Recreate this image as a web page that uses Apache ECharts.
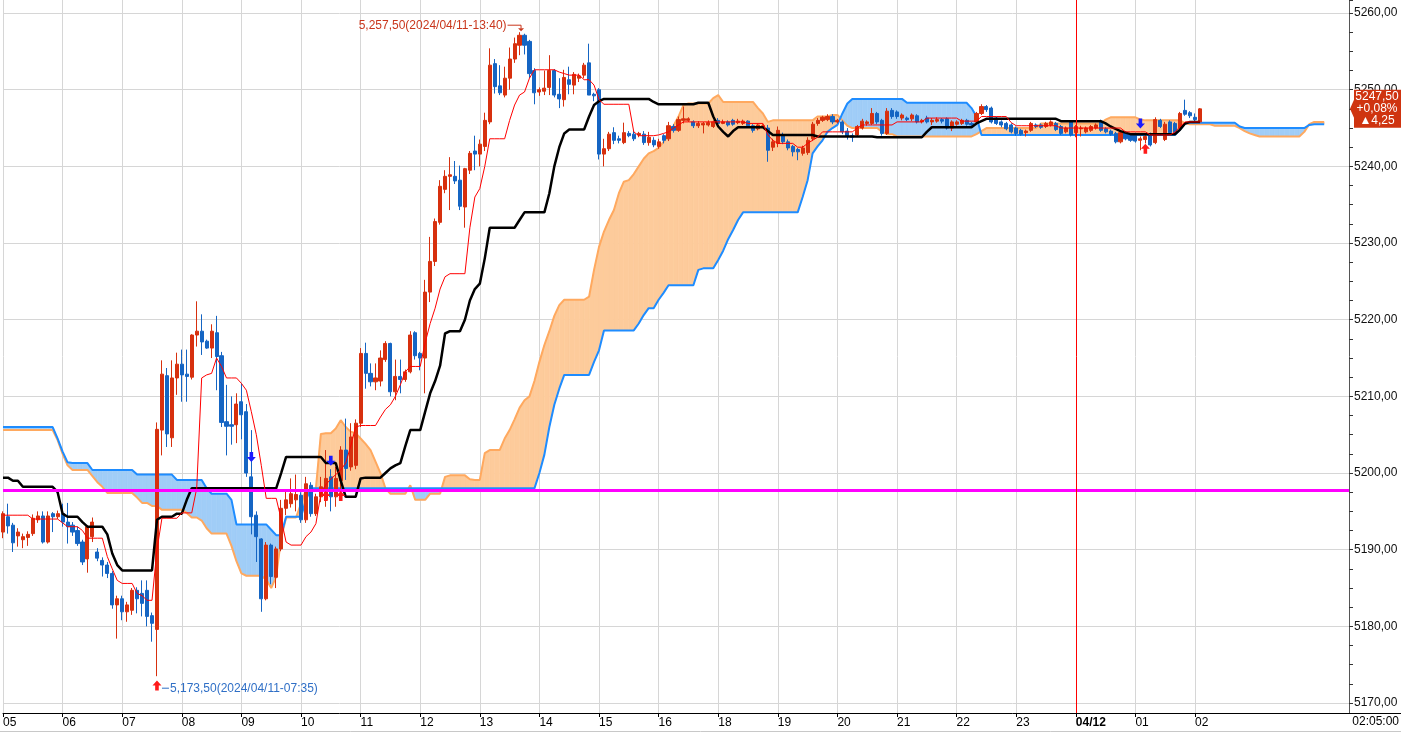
<!DOCTYPE html>
<html>
<head>
<meta charset="utf-8">
<script src="https://cdn.jsdelivr.net/npm/echarts@6/dist/echarts.min.js"></script>
<style>
html,body{margin:0;padding:0;background:#fff;}
#chart{width:1401px;height:733px;}
</style>
</head>
<body>
<div id="chart"></div>
<script>
// 5-minute bars [open, close, low, high], 05:00 .. 02:05
var ohlc = [
// 0
[5192.3,5194.7,5191.5,5195.0],[5194.3,5193.1,5192.1,5196.0],[5193.2,5190.9,5189.7,5193.5],[5191.8,5192.3,5190.4,5192.8],[5191.3,5191.7,5190.2,5192.1],
[5191.6,5192.0,5190.5,5192.4],[5192.1,5194.1,5191.8,5194.6],[5193.9,5194.4,5193.5,5195.0],[5194.4,5191.0,5190.8,5195.0],[5191.0,5194.4,5190.8,5195.0],
// 10
[5194.7,5194.3,5192.3,5194.9],[5194.3,5194.7,5194.0,5195.1],[5194.7,5193.6,5193.0,5196.0],[5193.6,5193.0,5190.8,5196.1],[5193.2,5192.3,5191.8,5193.6],
[5192.5,5190.8,5190.5,5193.0],[5191.0,5188.4,5188.0,5191.3],[5188.8,5193.0,5187.0,5193.2],[5191.7,5193.6,5191.0,5194.2],[5189.7,5188.9,5188.5,5190.2],
// 20
[5188.6,5188.0,5186.5,5189.0],[5188.0,5186.9,5186.3,5188.4],[5186.9,5182.8,5182.3,5187.2],[5182.8,5183.6,5178.4,5184.0],[5183.6,5181.9,5180.8,5184.0],
[5181.9,5182.8,5180.6,5183.2],[5182.1,5184.7,5181.5,5185.0],[5184.7,5183.6,5181.7,5185.1],[5184.3,5183.0,5181.3,5186.0],[5184.7,5181.3,5180.0,5186.0],
// 30
[5181.4,5180.4,5178.0,5181.8],[5179.6,5205.7,5173.5,5206.6],[5205.6,5212.9,5202.3,5214.7],[5212.7,5205.1,5203.4,5213.7],[5204.6,5212.4,5203.4,5214.7],
[5212.4,5214.2,5210.2,5215.7],[5214.2,5212.8,5209.3,5216.1],[5212.9,5212.6,5209.3,5216.1],[5212.5,5218.0,5212.2,5218.1],[5218.0,5218.5,5216.5,5222.4],
// 40
[5218.5,5217.1,5215.4,5220.7],[5217.2,5216.3,5216.2,5217.4],[5216.3,5218.5,5215.0,5219.4],[5218.3,5215.2,5210.8,5220.5],[5215.3,5206.6,5206.0,5215.8],
[5206.7,5206.1,5202.3,5211.5],[5206.3,5206.1,5203.7,5210.0],[5206.3,5209.0,5203.9,5210.4],[5209.3,5207.6,5204.4,5211.7],[5208.0,5200.0,5199.5,5209.0],
// 50
[5199.5,5194.3,5192.0,5205.6],[5194.5,5191.7,5188.4,5195.0],[5191.4,5183.6,5181.9,5191.5],[5183.6,5190.6,5183.4,5191.0],[5190.6,5186.5,5185.5,5190.8],
[5186.4,5190.1,5185.0,5190.4],[5190.1,5195.4,5189.8,5196.5],[5195.4,5196.5,5194.5,5197.8],[5196.0,5197.3,5195.5,5199.3],[5196.5,5197.2,5195.0,5199.8],
// 60
[5197.1,5193.9,5193.5,5197.5],[5193.9,5198.6,5193.5,5199.5],[5198.4,5194.7,5194.3,5198.8],[5194.7,5196.9,5194.4,5197.3],[5196.9,5198.2,5196.2,5199.5],
[5196.5,5199.3,5195.6,5203.0],[5199.5,5196.9,5195.0,5200.5],[5196.9,5199.3,5195.6,5200.8],[5199.0,5203.0,5197.5,5203.5],[5203.0,5200.6,5199.1,5207.1],
// 70
[5200.8,5204.7,5200.3,5206.5],[5201.0,5206.5,5200.5,5207.0],[5206.5,5215.6,5206.0,5216.3],[5215.6,5213.0,5211.0,5217.0],[5213.0,5211.9,5211.3,5214.3],
[5211.9,5212.4,5210.8,5214.3],[5212.0,5215.0,5211.3,5216.0],[5214.8,5216.9,5214.5,5217.2],[5216.9,5210.6,5210.0,5217.0],[5210.6,5212.6,5209.5,5214.8],
// 80
[5212.6,5212.2,5210.4,5214.8],[5212.2,5213.2,5211.9,5213.5],[5213.2,5218.0,5213.0,5218.5],[5218.3,5215.3,5214.8,5218.5],[5215.6,5215.0,5213.4,5215.8],
[5215.0,5223.6,5210.4,5225.2],[5223.6,5227.6,5222.3,5230.8],[5227.6,5232.8,5227.0,5233.2],[5232.7,5237.4,5232.4,5238.2],[5237.0,5238.7,5236.5,5239.5],
// 90
[5238.7,5238.9,5234.3,5241.2],[5238.7,5238.1,5237.7,5240.7],[5238.2,5234.8,5234.3,5240.1],[5234.7,5239.7,5232.0,5239.8],[5239.5,5241.7,5239.0,5242.0],
[5242.0,5241.6,5239.5,5244.0],[5241.6,5242.9,5240.0,5243.5],[5242.6,5246.0,5242.0,5247.0],[5245.8,5253.2,5245.5,5255.4],[5253.4,5250.4,5249.5,5254.0],
// 100
[5250.5,5249.6,5249.3,5253.2],[5249.3,5251.5,5249.0,5253.0],[5251.5,5254.0,5250.0,5255.5],[5254.0,5256.0,5253.5,5256.8],[5255.8,5257.1,5254.5,5257.5],
[5257.1,5255.8,5254.6,5257.3],[5256.3,5252.1,5251.5,5256.5],[5252.5,5249.6,5248.1,5252.8],[5249.7,5250.0,5249.2,5250.3],[5249.8,5250.2,5249.3,5252.5],
// 110
[5250.3,5252.5,5249.3,5254.5],[5252.5,5249.3,5249.0,5252.7],[5249.4,5248.8,5247.6,5251.5],[5248.7,5251.6,5247.8,5252.6],[5251.3,5250.7,5249.4,5253.0],
[5250.6,5252.0,5249.4,5252.3],[5251.5,5251.8,5251.0,5252.1],[5251.9,5253.2,5251.5,5253.5],[5253.5,5249.3,5249.3,5256.0],[5249.4,5249.2,5248.5,5249.6],
// 120
[5250.0,5241.6,5240.9,5250.2],[5241.6,5242.3,5240.0,5243.6],[5242.3,5244.2,5242.0,5244.5],[5244.4,5243.4,5242.9,5245.1],[5243.6,5243.4,5243.0,5244.0],
[5243.1,5244.4,5242.9,5245.7],[5244.3,5244.0,5243.8,5244.6],[5244.2,5243.6,5243.3,5244.6],[5244.1,5244.3,5243.8,5244.5],[5244.2,5243.1,5242.8,5244.6],
// 130
[5243.1,5243.8,5242.7,5244.5],[5243.4,5242.8,5242.5,5243.8],[5242.6,5243.2,5242.3,5243.6],[5244.0,5243.4,5243.0,5244.2],[5243.6,5245.3,5243.3,5245.8],
[5245.2,5244.7,5244.4,5245.5],[5244.7,5246.1,5244.5,5246.5],[5246.0,5246.2,5245.6,5247.8],[5246.0,5246.2,5245.8,5246.4],[5245.8,5245.3,5245.0,5246.0],
// 140
[5245.3,5245.6,5245.0,5245.9],[5245.4,5245.6,5244.3,5245.8],[5245.4,5245.7,5245.2,5246.0],[5245.2,5245.8,5245.0,5246.0],[5246.0,5245.6,5245.4,5246.3],
[5245.6,5245.8,5245.5,5246.1],[5245.8,5245.4,5245.2,5246.0],[5246.0,5245.5,5245.3,5246.2],[5245.7,5245.9,5245.5,5246.2],[5245.6,5245.9,5245.4,5246.1],
// 150
[5245.9,5245.3,5245.1,5246.0],[5245.3,5244.7,5244.4,5245.5],[5244.9,5245.4,5244.7,5245.6],[5245.1,5245.3,5245.0,5245.5],[5245.0,5242.1,5240.6,5245.4],
[5242.5,5243.2,5242.0,5243.6],[5243.0,5244.7,5242.5,5245.2],[5244.1,5243.2,5242.9,5244.4],[5243.2,5242.4,5242.1,5243.5],[5242.6,5241.9,5241.3,5242.8],
// 160
[5242.2,5241.9,5240.8,5242.4],[5241.7,5242.4,5241.4,5242.7],[5241.8,5243.4,5241.5,5243.8],[5243.6,5245.5,5243.3,5245.8],[5245.6,5246.0,5245.3,5246.3],
[5246.0,5246.4,5245.8,5246.6],[5246.1,5246.5,5245.9,5246.8],[5246.5,5245.8,5245.5,5246.8],[5245.8,5246.0,5245.6,5246.2],[5245.8,5244.5,5244.2,5246.0],
// 170
[5244.6,5243.9,5243.5,5245.0],[5244.0,5243.8,5243.2,5244.3],[5244.1,5245.2,5243.9,5245.4],[5245.0,5245.9,5244.8,5246.2],[5245.6,5245.8,5245.3,5246.0],
[5245.6,5246.9,5245.4,5247.6],[5246.9,5245.8,5245.5,5247.1],[5246.0,5244.3,5244.0,5246.2],[5244.3,5247.2,5244.1,5247.6],[5247.3,5246.5,5246.2,5247.6],
// 180
[5247.1,5246.5,5246.2,5247.3],[5246.3,5246.7,5246.0,5246.9],[5246.3,5246.1,5245.9,5246.5],[5246.2,5246.7,5245.9,5246.9],[5246.6,5245.8,5245.6,5246.8],
[5245.8,5246.0,5245.6,5246.2],[5246.3,5245.8,5245.6,5246.6],[5245.8,5246.0,5245.4,5246.3],[5245.9,5246.1,5245.7,5246.4],[5246.1,5245.9,5245.6,5246.3],
// 190
[5246.2,5245.0,5244.8,5246.4],[5245.0,5245.8,5244.6,5246.0],[5245.5,5245.8,5245.3,5246.0],[5245.6,5246.0,5245.4,5246.2],[5246.0,5245.5,5245.3,5246.2],
[5245.6,5245.4,5245.1,5245.8],[5245.8,5246.9,5245.6,5247.1],[5246.9,5247.8,5246.7,5248.1],[5247.8,5247.4,5247.1,5248.0],[5247.6,5245.8,5245.6,5247.8],
// 200
[5246.3,5245.6,5245.4,5246.5],[5245.8,5245.4,5245.1,5246.0],[5245.6,5244.9,5244.7,5245.8],[5245.4,5244.5,5244.3,5245.6],[5245.0,5244.3,5244.0,5245.2],
[5244.7,5244.2,5244.0,5244.9],[5244.4,5244.6,5243.9,5244.8],[5244.7,5245.6,5244.5,5245.8],[5245.4,5245.2,5245.0,5245.6],[5245.4,5245.1,5244.9,5245.6],
// 210
[5245.2,5245.6,5245.0,5245.8],[5245.4,5245.8,5245.2,5246.0],[5245.6,5244.8,5244.6,5245.8],[5245.2,5244.3,5244.1,5245.4],[5244.5,5245.0,5244.3,5245.2],
[5245.8,5244.1,5243.9,5246.0],[5244.4,5245.2,5243.8,5245.4],[5244.9,5245.0,5243.9,5245.3],[5244.5,5245.0,5244.3,5245.2],[5244.7,5245.2,5244.5,5245.4],
// 220
[5245.0,5245.4,5244.8,5245.6],[5245.9,5244.7,5244.5,5246.1],[5244.9,5244.5,5244.3,5245.1],[5244.6,5244.2,5244.0,5244.8],[5244.3,5243.2,5243.0,5244.5],
[5243.2,5244.4,5243.0,5244.6],[5244.4,5243.6,5243.4,5244.6],[5244.1,5243.4,5243.2,5244.3],[5244.2,5243.3,5243.1,5244.4],[5243.4,5243.6,5242.1,5243.9],
// 230
[5243.5,5243.9,5243.0,5244.1],[5244.2,5242.8,5242.6,5244.4],[5243.1,5246.1,5242.9,5246.4],[5246.0,5245.2,5245.0,5246.2],[5243.5,5245.5,5243.3,5245.8],
[5245.8,5244.4,5244.2,5246.0],[5245.6,5244.4,5244.2,5245.8],[5245.0,5246.9,5244.8,5247.1],[5247.3,5246.8,5246.6,5248.7],[5247.0,5246.6,5246.3,5247.2],
// 240
[5246.4,5246.1,5245.9,5246.9],[5245.8,5247.5,5245.7,5247.6]
];

// conversion line (red, thin), one value per bar
var tenkan = [
5194.5,5194.5,5194.5,5194.5,5194.5,5194.5,5194.0,5194.0,5194.0,5194.0,
5194.0,5194.0,5193.5,5193.0,5193.0,5193.0,5192.5,5191.5,5191.5,5191.5,
5191.5,5189.1,5187.5,5186.0,5185.6,5185.6,5185.6,5184.3,5184.0,5183.4,
5183.4,5190.0,5194.1,5194.1,5194.1,5194.1,5194.8,5194.8,5194.8,5198.0,
5212.4,5212.8,5213.0,5215.0,5213.9,5212.4,5212.4,5212.4,5211.7,5210.8,
5208.0,5205.0,5201.0,5196.7,5196.7,5196.7,5194.0,5191.0,5190.6,5190.6,
5190.6,5191.7,5192.3,5193.4,5197.3,5198.5,5199.2,5199.8,5200.4,5201.3,
5203.5,5206.0,5206.2,5206.2,5206.2,5206.2,5207.3,5208.3,5208.9,5210.0,
5211.5,5213.2,5213.9,5213.9,5213.9,5217.0,5219.5,5221.5,5224.0,5225.6,
5226.0,5226.0,5226.0,5226.0,5232.0,5236.0,5237.1,5240.0,5243.6,5243.6,
5243.6,5243.6,5246.0,5248.0,5249.3,5249.7,5251.5,5252.6,5252.6,5252.6,
5252.6,5252.6,5252.3,5252.1,5251.9,5251.9,5251.9,5251.3,5251.3,5250.6,
5248.7,5248.1,5248.1,5248.1,5248.1,5248.1,5248.1,5244.5,5244.0,5244.0,
5244.0,5244.0,5244.1,5244.3,5244.5,5245.0,5245.4,5245.8,5245.8,5245.8,
5245.8,5245.8,5245.8,5245.8,5245.8,5245.8,5245.8,5245.8,5245.8,5245.8,
5245.6,5245.6,5245.6,5245.6,5244.1,5243.4,5243.0,5243.0,5243.0,5243.0,
5242.5,5242.5,5243.0,5243.4,5243.8,5244.5,5244.5,5244.5,5244.5,5244.5,
5244.5,5244.5,5245.0,5245.4,5245.4,5245.4,5245.4,5245.4,5245.4,5245.4,
5245.8,5245.8,5245.8,5245.8,5245.8,5245.8,5246.3,5246.3,5246.3,5246.3,
5246.3,5246.3,5246.3,5245.9,5245.9,5245.9,5245.9,5246.5,5246.5,5246.5,
5246.5,5246.5,5246.5,5245.7,5245.3,5245.3,5245.3,5245.3,5245.3,5245.3,
5245.3,5245.3,5245.3,5245.0,5245.0,5245.0,5245.0,5245.0,5245.0,5245.0,
5245.0,5245.0,5245.0,5245.0,5245.0,5245.0,5244.5,5244.5,5244.5,5244.5,
5244.5,5244.1,5244.1,5244.1,5244.1,5244.1,5244.5,5245.2,5245.8,5245.8,
5245.8,5245.8
];

// base line (black)
var kijun = [
5199.4,5199.4,5199.0,5199.0,5198.2,5198.2,5198.2,5198.2,5198.2,5198.2,
5198.2,5197.5,5194.7,5194.3,5194.3,5194.3,5193.6,5193.0,5193.0,5193.0,
5193.0,5192.0,5189.5,5188.0,5187.3,5187.3,5187.3,5187.3,5187.3,5187.3,
5187.3,5193.9,5194.3,5194.3,5194.3,5194.7,5194.7,5196.5,5198.0,5198.0,
5198.0,5198.0,5198.0,5198.0,5198.0,5198.0,5198.0,5198.0,5198.0,5198.0,
5198.0,5198.0,5198.0,5198.0,5198.0,5198.0,5200.0,5202.1,5202.1,5202.1,
5202.1,5202.1,5202.1,5202.1,5202.1,5201.3,5201.3,5201.3,5199.0,5196.9,
5196.9,5196.9,5199.3,5199.4,5199.4,5199.4,5199.4,5200.0,5200.6,5201.0,
5201.3,5203.5,5205.6,5205.6,5205.6,5208.0,5210.4,5212.0,5214.0,5218.2,
5218.5,5218.5,5218.5,5220.0,5222.5,5224.0,5224.7,5228.0,5232.0,5232.0,
5232.0,5232.0,5232.0,5232.0,5233.0,5234.0,5234.0,5234.0,5234.0,5234.0,
5236.5,5240.0,5242.5,5244.3,5244.8,5244.8,5244.8,5244.8,5246.5,5248.0,
5248.5,5248.8,5248.8,5248.8,5248.8,5248.8,5248.8,5248.8,5248.8,5248.8,
5248.8,5248.4,5248.1,5248.1,5248.1,5248.1,5248.1,5248.1,5248.1,5248.1,
5248.3,5248.3,5248.3,5246.5,5245.2,5244.5,5243.9,5244.6,5245.1,5245.1,
5245.1,5245.1,5245.1,5245.1,5244.6,5244.1,5244.1,5244.1,5244.1,5244.1,
5244.1,5244.1,5244.1,5244.1,5243.9,5243.9,5243.9,5243.9,5243.9,5243.9,
5243.9,5243.9,5243.9,5243.9,5243.9,5243.9,5243.8,5243.8,5243.8,5243.8,
5243.8,5243.8,5243.8,5243.8,5243.8,5243.8,5244.5,5245.1,5245.1,5245.1,
5245.1,5245.1,5245.1,5245.1,5245.1,5245.1,5245.6,5245.9,5246.2,5246.2,
5246.2,5246.2,5246.2,5246.2,5246.2,5246.2,5246.2,5246.2,5246.2,5246.2,
5246.2,5246.2,5246.2,5245.9,5245.9,5245.9,5245.9,5245.9,5245.9,5245.9,
5245.9,5245.9,5245.6,5245.2,5244.9,5244.6,5244.4,5244.2,5244.2,5244.2,
5244.2,5244.2,5244.2,5244.2,5244.2,5244.2,5244.2,5244.8,5245.6,5245.8,
5245.8,5245.8
];

// leading span A (orange), runs 26 bars past the last candle
var spanA = [
5205.6,5205.6,5205.6,5205.6,5205.6,5205.6,5205.6,5205.6,5205.6,5205.6,
5205.6,5204.3,5202.5,5201.0,5200.4,5200.4,5200.4,5200.4,5199.6,5198.8,
5198.2,5197.4,5197.4,5197.4,5197.4,5197.4,5197.4,5196.8,5196.1,5196.1,
5195.7,5195.7,5195.2,5195.2,5195.2,5195.2,5195.2,5194.8,5194.2,5194.2,
5193.8,5192.8,5192.1,5192.1,5192.1,5192.1,5190.5,5188.5,5186.9,5186.6,
5186.6,5186.6,5186.6,5186.1,5185.0,5186.5,5191.5,5194.2,5194.2,5194.2,
5196.0,5197.8,5197.8,5198.0,5205.1,5205.2,5205.2,5205.8,5206.9,5206.0,
5205.4,5205.2,5204.5,5203.8,5203.0,5201.5,5200.0,5198.0,5197.3,5197.3,
5197.3,5197.3,5198.4,5196.5,5196.5,5196.5,5197.3,5197.3,5197.3,5199.5,
5199.7,5199.7,5199.7,5199.7,5199.2,5199.1,5199.1,5202.6,5203.0,5203.0,
5203.0,5204.5,5205.6,5207.0,5208.5,5209.5,5210.0,5212.0,5214.5,5216.7,
5218.5,5220.5,5221.9,5222.6,5222.6,5222.6,5222.6,5222.6,5223.0,5226.5,
5229.5,5231.5,5233.0,5234.3,5236.5,5238.0,5238.2,5239.0,5240.0,5241.0,
5241.7,5242.0,5242.4,5243.2,5244.2,5245.3,5246.5,5248.0,5248.2,5248.2,
5248.2,5248.2,5248.2,5248.9,5249.3,5248.4,5248.4,5248.4,5248.4,5248.4,
5248.4,5248.4,5247.6,5246.9,5245.8,5246.0,5246.0,5246.0,5246.0,5246.0,
5246.0,5246.0,5246.0,5246.0,5246.5,5246.5,5246.5,5246.7,5246.7,5246.0,
5245.3,5245.0,5245.0,5245.0,5245.0,5245.0,5245.0,5244.5,5244.2,5244.2,
5243.9,5243.9,5243.9,5243.9,5243.9,5243.9,5243.9,5243.9,5243.9,5243.9,
5243.9,5243.9,5243.9,5243.9,5243.9,5243.9,5244.2,5244.6,5245.0,5245.0,
5245.0,5245.0,5245.0,5245.0,5245.0,5245.0,5245.0,5245.0,5245.0,5245.6,
5245.6,5245.6,5245.6,5245.6,5245.6,5245.6,5245.6,5245.6,5245.6,5245.6,
5245.6,5245.6,5246.1,5246.4,5246.4,5246.4,5246.4,5246.4,5246.4,5246.1,
5246.0,5246.0,5246.0,5246.0,5246.0,5246.0,5246.0,5246.0,5245.6,5245.5,
5245.5,5245.5,5245.5,5245.5,5245.3,5245.3,5245.3,5245.3,5245.3,5245.0,
5244.6,5244.3,5244.1,5243.9,5243.9,5243.9,5243.9,5243.9,5243.9,5243.9,
5243.9,5243.9,5244.5,5245.5,5245.8,5245.8,5245.8
];

// leading span B (blue)
var spanB = [
5206.0,5206.0,5206.0,5206.0,5206.0,5206.0,5206.0,5206.0,5206.0,5206.0,
5206.0,5204.5,5202.8,5201.4,5201.3,5201.3,5201.3,5201.3,5200.4,5200.4,
5200.4,5200.4,5200.4,5200.4,5200.4,5200.4,5200.4,5199.8,5199.8,5199.8,
5199.8,5199.8,5199.8,5199.8,5199.8,5199.1,5199.1,5199.1,5199.1,5199.1,
5199.1,5198.0,5197.3,5197.3,5197.3,5197.3,5196.5,5193.3,5193.3,5193.3,
5193.3,5193.3,5193.3,5193.3,5192.6,5191.9,5191.9,5194.3,5194.3,5194.3,
5194.3,5196.5,5198.0,5198.0,5198.0,5198.0,5198.0,5198.0,5198.0,5198.0,
5198.0,5198.0,5198.0,5198.0,5198.0,5198.0,5198.0,5198.0,5198.0,5198.0,
5198.0,5198.0,5198.0,5198.0,5198.0,5198.0,5198.0,5198.0,5198.0,5198.0,
5198.0,5198.0,5198.0,5198.0,5198.0,5198.0,5198.0,5198.0,5198.0,5198.0,
5198.0,5198.0,5198.0,5198.0,5198.0,5198.0,5198.0,5198.0,5200.0,5202.4,
5206.0,5208.9,5211.0,5212.8,5212.8,5212.8,5212.8,5212.8,5212.8,5214.5,
5216.0,5218.6,5218.6,5218.6,5218.6,5218.6,5218.6,5218.6,5219.5,5220.6,
5221.5,5221.5,5222.6,5223.5,5224.5,5224.5,5224.5,5224.5,5224.5,5224.5,
5226.5,5226.7,5226.7,5226.7,5227.8,5229.0,5230.5,5231.7,5233.0,5234.0,
5234.0,5234.0,5234.0,5234.0,5234.0,5234.0,5234.0,5234.0,5234.0,5234.0,
5234.0,5236.0,5238.2,5241.7,5242.6,5243.4,5244.5,5245.0,5245.4,5246.9,
5248.2,5248.8,5248.8,5248.8,5248.8,5248.8,5248.8,5248.8,5248.8,5248.8,
5248.8,5248.8,5248.3,5248.3,5248.3,5248.3,5248.3,5248.3,5248.3,5248.3,
5248.3,5248.3,5248.3,5248.3,5248.3,5247.6,5246.5,5244.1,5244.1,5244.1,
5244.1,5244.1,5244.1,5244.1,5244.1,5244.1,5244.1,5244.1,5244.1,5244.1,
5244.1,5244.1,5244.1,5244.1,5244.1,5244.1,5244.1,5244.1,5244.1,5244.1,
5244.1,5244.1,5244.1,5244.1,5244.1,5244.1,5244.1,5244.1,5244.1,5244.1,
5244.1,5244.1,5244.1,5244.1,5244.1,5244.1,5244.1,5244.8,5245.6,5245.7,
5245.7,5245.7,5245.7,5245.7,5245.7,5245.7,5245.7,5245.7,5245.7,5245.2,
5245.0,5245.0,5245.0,5245.0,5245.0,5245.0,5245.0,5245.0,5245.0,5245.0,
5245.0,5245.0,5245.0,5245.4,5245.5,5245.5,5245.5
];

// session hours shown on the time axis (17:00 break)
var sessionHours = ['05','06','07','08','09','10','11','12','13','14','15','16','18','19','20','21','22','23','00','01','02'];
var minuteSteps = ['00','05','10','15','20','25','30','35','40','45','50','55'];
var dateLabel = '04/12';
var futureSlots = 30;

// signals and markers [barIndex, price]
var sellSignals = [[50, 5202.1], [66, 5201.6], [229, 5245.6]];
var buySignals = [[31, 5172.3], [65, 5197.0], [68, 5197.0], [230, 5242.3]];
var supportLevel = 5197.8;
var highPoint = [104, 5257.5];
var lowPoint = [31, 5173.5];
var highText = '5,257,50(2024/04/11-13:40)';
var lowText = '5,173,50(2024/04/11-07:35)';
var lastPrice = 5247.5;
var priceBoxLines = ['5247,50', '+0,08%', '\u25B24,25'];
var lastTime = '02:05:00';

var categories = [];
sessionHours.forEach(function (h) {
    minuteSteps.forEach(function (m) {
        if (categories.length < ohlc.length) categories.push(h + ':' + m);
    });
});
for (var f = 0; f < futureSlots; f++) categories.push('f' + f);

var FONT = "'Liberation Sans', Arial, sans-serif";
var UP = '#d7300e', DOWN = '#1565c3';
var CLOUD_UP = '#fdcb9b', CLOUD_DOWN = '#a0cdf7';

function isHour(idx, val) { return typeof val === 'string' && val.length === 5 && val.slice(3) === '00'; }

var cloudSegs = [];
for (var i = 0; i < spanA.length - 1; i++) {
    cloudSegs.push([i, spanA[i], spanB[i], spanA[i + 1], spanB[i + 1]]);
}

function renderCloud(params, api) {
    var k = params.dataIndex;
    var a0v = spanA[k], b0v = spanB[k], a1v = spanA[k + 1], b1v = spanB[k + 1];
    var a0 = api.coord([k, a0v]), b0 = api.coord([k, b0v]);
    var a1 = api.coord([k + 1, a1v]), b1 = api.coord([k + 1, b1v]);
    var d0 = a0v - b0v, d1 = a1v - b1v;
    var kids = [];
    function poly(pts, c) {
        return { type: 'polygon', shape: { points: pts }, style: { fill: c, stroke: c, lineWidth: 0.6 } };
    }
    if ((d0 >= 0 && d1 >= 0) || (d0 <= 0 && d1 <= 0)) {
        kids.push(poly([a0, a1, b1, b0], (d0 + d1) >= 0 ? CLOUD_UP : CLOUD_DOWN));
    } else {
        var t = d0 / (d0 - d1);
        var c = [a0[0] + t * (a1[0] - a0[0]), a0[1] + t * (a1[1] - a0[1])];
        kids.push(poly([a0, c, b0], d0 > 0 ? CLOUD_UP : CLOUD_DOWN));
        kids.push(poly([c, a1, b1], d1 > 0 ? CLOUD_UP : CLOUD_DOWN));
    }
    return { type: 'group', children: kids };
}

var chart = echarts.init(document.getElementById('chart'), null, { renderer: 'canvas' });

var option = {
    animation: false,
    backgroundColor: '#ffffff',
    grid: { left: 0, right: 52, top: 0, bottom: 20, containLabel: false },
    xAxis: {
        type: 'category',
        data: categories,
        boundaryGap: false,
        axisLine: { show: true, lineStyle: { color: '#000', width: 1 } },
        axisTick: { show: true, interval: isHour, length: 4, lineStyle: { color: '#000' } },
        axisLabel: {
            show: true, interval: isHour, align: 'left', margin: 4, padding: [0, 0, 0, 0],
            fontFamily: FONT, fontSize: 12, color: '#000',
            formatter: function (v) {
                var h = v.slice(0, 2);
                return h === '00' ? '{b|' + dateLabel + '}' : h;
            },
            rich: { b: { fontFamily: FONT, fontSize: 12, fontWeight: 'bold', color: '#000' } }
        },
        splitLine: { show: true, interval: isHour, lineStyle: { color: '#d6d6d6', width: 1 } }
    },
    yAxis: {
        type: 'value',
        position: 'right',
        min: 5168.7,
        max: 5261.7,
        splitNumber: 9,
        axisLine: { show: true, lineStyle: { color: '#555' } },
        axisTick: { show: true, length: 4, lineStyle: { color: '#333' } },
        minorTick: { show: true, splitNumber: 4, length: 4, lineStyle: { color: '#333' } },
        axisLabel: {
            margin: 5, fontFamily: FONT, fontSize: 12, color: '#111',
            showMinLabel: false, showMaxLabel: false,
            formatter: function (v) {
                var r = Math.round(v);
                if (Math.abs(v - r) > 1e-6 || r % 10 !== 0) return '';
                return v.toFixed(2).replace('.', ',');
            }
        },
        splitLine: { show: true, showMinLine: false, showMaxLine: false, lineStyle: { color: '#d6d6d6' } }
    },
    series: [
        {
            name: 'cloud', type: 'custom', renderItem: renderCloud, data: cloudSegs,
            encode: { x: 0, y: [1, 2] }, clip: true, z: 1, silent: true
        },
        {
            name: 'spanA', type: 'line', data: spanA, symbol: 'none', z: 2, silent: true,
            lineStyle: { color: '#ffa95f', width: 2 }
        },
        {
            name: 'spanB', type: 'line', data: spanB, symbol: 'none', z: 2, silent: true,
            lineStyle: { color: '#1e8cff', width: 2 }
        },
        {
            name: 'price', type: 'candlestick', data: ohlc, barWidth: 3.6, clip: true, z: 3,
            itemStyle: { color: UP, color0: DOWN, borderColor: UP, borderColor0: DOWN, borderWidth: 1 }
        },
        {
            name: 'kijun', type: 'line', data: kijun, symbol: 'none', z: 4, silent: true,
            lineStyle: { color: '#000', width: 2.5 }
        },
        {
            name: 'tenkan', type: 'line', data: tenkan, symbol: 'none', z: 4, silent: true,
            lineStyle: { color: '#ff0000', width: 1 },
            markLine: {
                silent: true, symbol: 'none', label: { show: false },
                data: [
                    { yAxis: supportLevel, lineStyle: { color: '#ff00ff', width: 3, type: 'solid' } },
                    { xAxis: '00:00', lineStyle: { color: '#ff0000', width: 1, type: 'solid' } }
                ]
            }
        },
        {
            name: 'sell', type: 'scatter', data: sellSignals, z: 6, silent: true,
            symbol: 'path://M3,0L7,0L7,5L10,5L5,10L0,5L3,5Z', symbolSize: [9, 10],
            itemStyle: { color: '#1a1aff', opacity: 1 }
        },
        {
            name: 'buy', type: 'scatter', data: buySignals, z: 6, silent: true,
            symbol: 'path://M5,0L10,5L7,5L7,10L3,10L3,5L0,5Z', symbolSize: [9, 10],
            itemStyle: { color: '#ff1a1a', opacity: 1 }
        }
    ]
};
chart.setOption(option);

// annotations placed from data coordinates
var hp = chart.convertToPixel({ gridIndex: 0 }, highPoint);
var lp = chart.convertToPixel({ gridIndex: 0 }, lowPoint);
var pp = chart.convertToPixel({ gridIndex: 0 }, [ohlc.length - 1, lastPrice]);
var gridRight = 1349;

chart.setOption({
    graphic: [
        { type: 'text', x: hp[0] - 13, y: hp[1] - 7, z: 20,
          style: { text: highText, fill: '#c9361c', font: '12px ' + FONT, align: 'right', verticalAlign: 'middle' } },
        { type: 'polyline', z: 20, shape: { points: [[hp[0] - 12, hp[1] - 7], [hp[0] + 1.5, hp[1] - 7], [hp[0] + 1.5, hp[1] - 4]] },
          style: { stroke: '#c9361c', lineWidth: 1, fill: null } },
        { type: 'polygon', z: 20, shape: { points: [[hp[0] - 1.5, hp[1] - 4], [hp[0] + 4.5, hp[1] - 4], [hp[0] + 1.5, hp[1] - 1]] },
          style: { fill: '#c9361c' } },
        { type: 'line', z: 20, shape: { x1: lp[0] + 5, y1: lp[1] + 12, x2: lp[0] + 12, y2: lp[1] + 12 },
          style: { stroke: '#2f6fc6', lineWidth: 1 } },
        { type: 'text', x: lp[0] + 13, y: lp[1] + 12, z: 20,
          style: { text: lowText, fill: '#2f6fc6', font: '12px ' + FONT, align: 'left', verticalAlign: 'middle' } },
        { type: 'polygon', z: 20,
          shape: { points: [[gridRight + 5, pp[1] - 19], [1401, pp[1] - 19], [1401, pp[1] + 19], [gridRight + 5, pp[1] + 19],
                            [gridRight + 5, pp[1] + 9], [gridRight + 1, pp[1]], [gridRight + 5, pp[1] - 9]] },
          style: { fill: '#cf3410' } },
        { type: 'text', x: 1377, y: pp[1] - 12, z: 21,
          style: { text: priceBoxLines[0], fill: '#fff', font: '12px ' + FONT, align: 'center', verticalAlign: 'middle' } },
        { type: 'text', x: 1377, y: pp[1], z: 21,
          style: { text: priceBoxLines[1], fill: '#fff', font: '12px ' + FONT, align: 'center', verticalAlign: 'middle' } },
        { type: 'text', x: 1377, y: pp[1] + 12, z: 21,
          style: { text: priceBoxLines[2], fill: '#fff', font: '12px ' + FONT, align: 'center', verticalAlign: 'middle' } },
        { type: 'line', z: 20, shape: { x1: gridRight, y1: 713.5, x2: 1401, y2: 713.5 }, style: { stroke: '#000', lineWidth: 1 } },
        { type: 'line', z: 20, shape: { x1: 0, y1: 731.5, x2: 1401, y2: 731.5 }, style: { stroke: '#c8c8c8', lineWidth: 1 } },
        { type: 'text', x: 1399, y: 722, z: 20,
          style: { text: lastTime, fill: '#000', font: '12px ' + FONT, align: 'right', verticalAlign: 'middle' } }
    ]
});
</script>
</body>
</html>
